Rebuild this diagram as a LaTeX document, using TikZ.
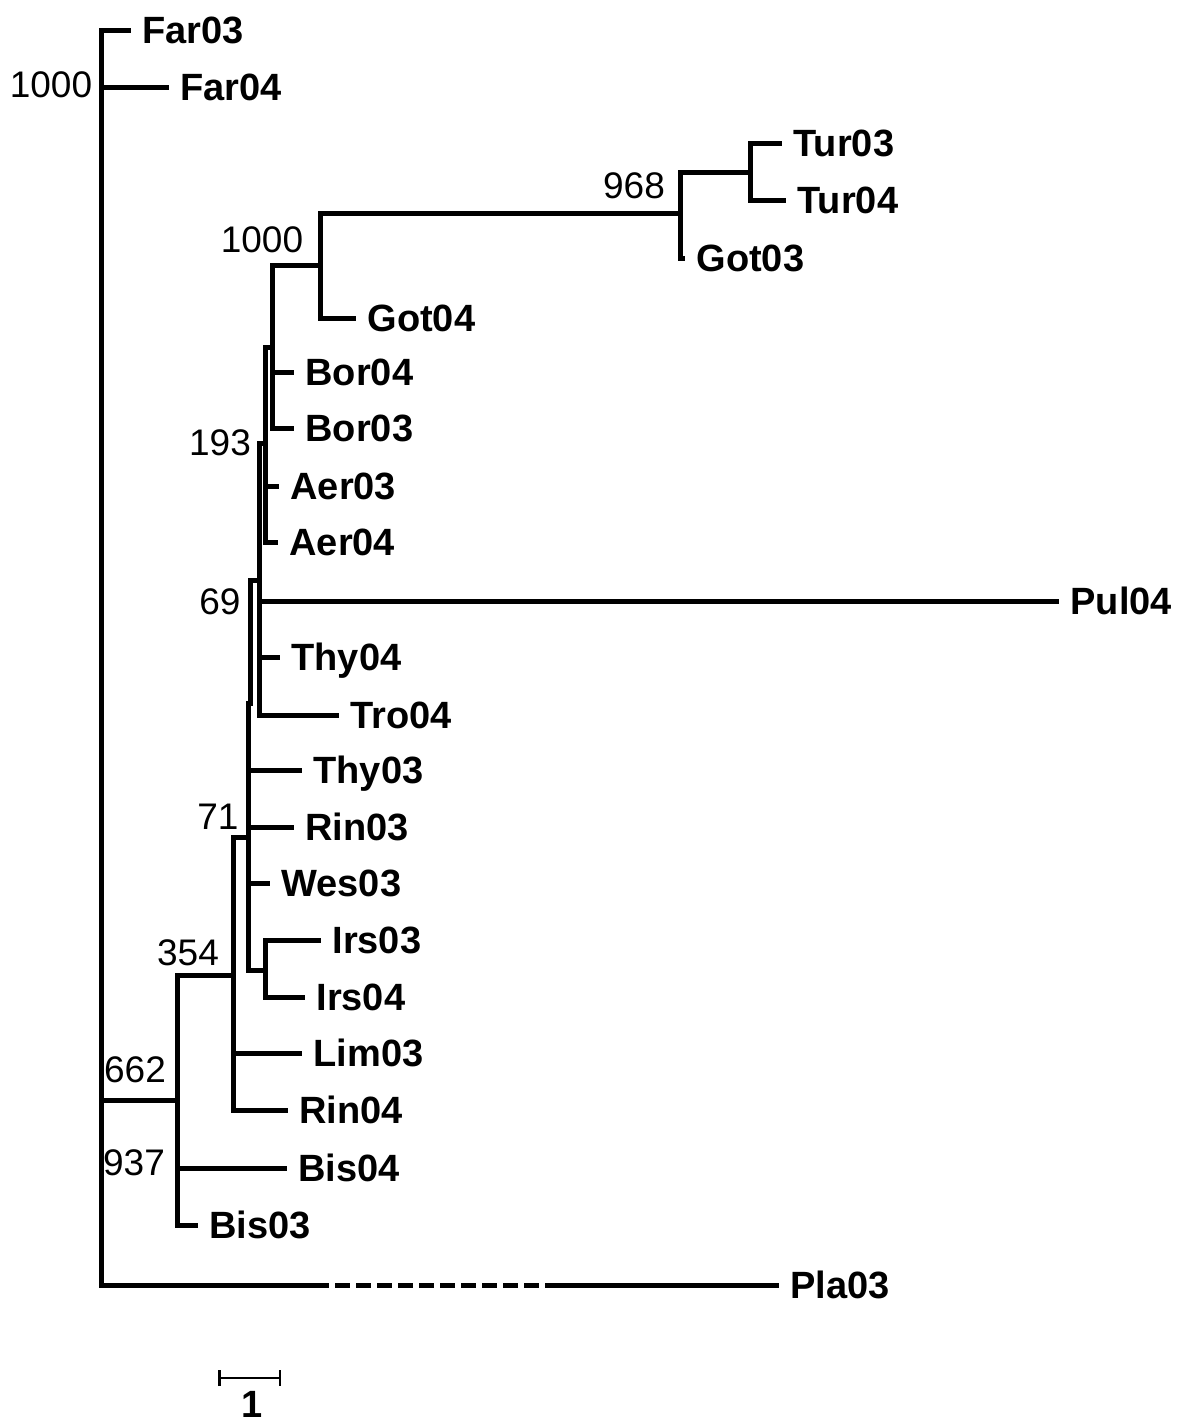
\documentclass[tikz,border=0pt]{standalone}
\usepackage{fontspec}
\setmainfont{Liberation Sans}
\usepackage{tikz}
\usetikzlibrary{arrows.meta}

\begin{document}
\begin{tikzpicture}[x=1pt,y=-1pt,line width=5pt,line cap=rect,
  leaf/.style={anchor=west,inner xsep=12pt,inner ysep=0pt,text depth=0pt,
    font=\fontsize{38}{40}\selectfont\bfseries},
  boot/.style={inner sep=0pt,text depth=0pt,font=\fontsize{37}{40}\selectfont},
  cut/.style={line cap=butt,dash pattern=on 15pt off 6pt}]
  \useasboundingbox (0,0) rectangle (1181,1424);

  \node[leaf] (far03) at (128,30) {Far03};
  \node[leaf] (far04) at (166,87) {Far04};
  \node[leaf] (tur03) at (779,143) {Tur03};
  \node[leaf] (tur04) at (783,200) {Tur04};
  \node[leaf] (got03) at (682,258) {Got03};
  \node[leaf] (got04) at (353,318) {Got04};
  \node[leaf] (bor04) at (291,372) {Bor04};
  \node[leaf] (bor03) at (291,428) {Bor03};
  \node[leaf] (aer03) at (276,486) {Aer03};
  \node[leaf] (aer04) at (275,542) {Aer04};
  \node[leaf] (pul04) at (1056,601) {Pul04};
  \node[leaf] (thy04) at (277,657) {Thy04};
  \node[leaf] (tro04) at (336,715) {Tro04};
  \node[leaf] (thy03) at (299,770) {Thy03};
  \node[leaf] (rin03) at (291,827) {Rin03};
  \node[leaf] (wes03) at (267,883) {Wes03};
  \node[leaf] (irs03) at (318,940) {Irs03};
  \node[leaf] (irs04) at (302,997) {Irs04};
  \node[leaf] (lim03) at (299,1053) {Lim03};
  \node[leaf] (rin04) at (285,1110) {Rin04};
  \node[leaf] (bis04) at (284,1168) {Bis04};
  \node[leaf] (bis03) at (195,1225) {Bis03};
  \node[leaf] (pla03) at (776,1285) {Pla03};

  \coordinate (root) at (101,87);
  \coordinate (n662) at (177,1100);
  \coordinate (n354) at (233,975);
  \coordinate (n71) at (248,837);
  \coordinate (nirs) at (265,970);
  \coordinate (n69) at (250,703);
  \coordinate (n193) at (259,580);
  \coordinate (naer) at (265,443);
  \coordinate (nbor) at (272,347);
  \coordinate (n1000) at (320,265);
  \coordinate (n968) at (680,213);
  \coordinate (ntur) at (750,172);
  \coordinate (plaA) at (326,1285);
  \coordinate (plaB) at (548,1285);

  \node[boot] (bsroot) at (51,85) {1000};
  \node[boot] (bs968) at (634,186) {968};
  \node[boot] (bs1000) at (262,240) {1000};
  \node[boot] (bs193) at (220,443) {193};
  \node[boot] (bs69) at (220,602) {69};
  \node[boot] (bs71) at (218,817) {71};
  \node[boot] (bs354) at (188,953) {354};
  \node[boot] (bs662) at (135,1070) {662};
  \node[boot] (bs937) at (134,1163) {937};

  \draw (root) |- (far03.west);
  \draw (root) -- (far04.west);
  \draw (root) |- (n662);
  \draw (root) |- (plaA);
  \draw[cut] (plaA) ++(9,0) -- (plaB);
  \draw (plaB) -- (pla03.west);

  \draw (n662) |- (n354);
  \draw (n662) |- (bis04.west);
  \draw (n662) |- (bis03.west);

  \draw (n354) |- (n71);
  \draw (n354) |- (lim03.west);
  \draw (n354) |- (rin04.west);

  \draw (n71) |- (n69);
  \draw (n71) |- (thy03.west);
  \draw (n71) |- (rin03.west);
  \draw (n71) |- (wes03.west);
  \draw (n71) |- (nirs);
  \draw (nirs) |- (irs03.west);
  \draw (nirs) |- (irs04.west);

  \draw (n69) |- (n193);
  \draw (n193) |- (naer);
  \draw (n193) |- (pul04.west);
  \draw (n193) |- (thy04.west);
  \draw (n193) |- (tro04.west);

  \draw (naer) |- (nbor);
  \draw (naer) |- (aer03.west);
  \draw (naer) |- (aer04.west);

  \draw (nbor) |- (n1000);
  \draw (nbor) |- (bor04.west);
  \draw (nbor) |- (bor03.west);

  \draw (n1000) |- (n968);
  \draw (n1000) |- (got04.west);
  \draw (n968) |- (ntur);
  \draw (n968) |- (got03.west);
  \draw (ntur) |- (tur03.west);
  \draw (ntur) |- (tur04.west);

  \coordinate (sbl) at (218,1378);
  \coordinate (sbr) at (281,1378);
  \draw[line width=2.5pt,line cap=butt,{Bar[width=16pt]}-{Bar[width=16pt]}] (sbl) -- (sbr);
  \node[boot,font=\fontsize{38}{40}\selectfont\bfseries] (unit) at (252,1404) {1};
\end{tikzpicture}
\end{document}
